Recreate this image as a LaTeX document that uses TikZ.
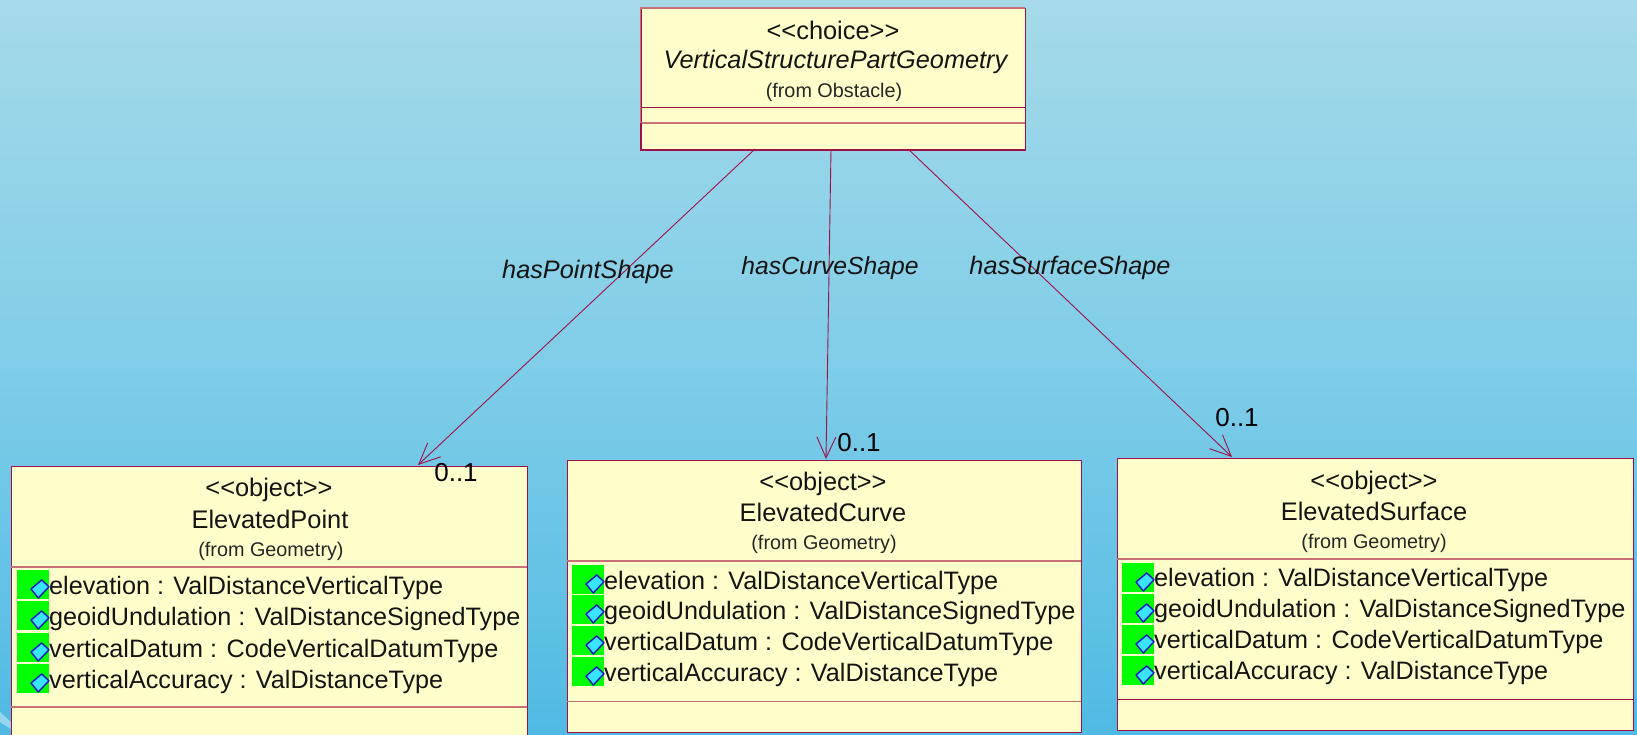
\documentclass[tikz,border=0pt]{standalone}
\usepackage{fontspec}
\setmainfont{Liberation Sans}
\usetikzlibrary{arrows.meta}
\definecolor{umlline}{HTML}{A01048}
\definecolor{umlfill}{HTML}{FFFFCB}
\definecolor{umlsoft}{HTML}{C87078}
\definecolor{bgtop}{HTML}{A6DAE8}
\definecolor{bgmid}{HTML}{7FCDE8}
\definecolor{bgbot}{HTML}{50BAE3}
\definecolor{iconblue}{HTML}{1818C0}
\definecolor{iconcyan}{HTML}{38E4FF}
\tikzset{
  x=1pt,y=-1pt,
  classbox/.style={draw=umlline,line width=1.4pt,fill=umlfill,rectangle,inner sep=0pt,anchor=north west},
  divider/.style={draw=umlline,line width=1pt},
  softdivider/.style={draw=umlsoft,line width=1.6pt},
  assoc/.style={draw=umlline,line width=0.9pt,-{Straight Barb[length=21pt,width=19pt,line width=0.9pt]}},
  stereo/.style={font=\fontsize{25.4}{28}\selectfont,inner sep=0pt,text=black!92},
  fromtxt/.style={font=\fontsize{19.8}{22}\selectfont,inner sep=0pt,text=black!85},
  attr/.style={font=\fontsize{25.2}{28}\selectfont,inner sep=0pt,anchor=base west,text=black!92},
  rolelab/.style={font=\itshape\fontsize{25.3}{28}\selectfont,inner sep=0pt,text=black!92},
  mult/.style={font=\fontsize{26}{28}\selectfont,inner sep=0pt,text=black},
  greenbox/.style={fill=green!100!black,draw=none},
}
% #1 x of row start, #2 top of the green block
\newcommand{\attricon}[2]{%
  \fill[greenbox] (#1,#2) rectangle +(32,29);
  \draw[draw=iconblue,line width=1.4pt,fill=iconcyan,line join=round]
    (#1+14,#2+19) -- (#1+24.7,#2+10) -- (#1+32,#2+16.7) -- (#1+21.3,#2+28) -- cycle;}
% #1 x icon, #2 x text, #3..#6 tops, #7 name prefix, #8 text baseline offset
\newcommand{\attrlist}[8]{%
  \attricon{#1}{#3}\attricon{#1}{#4}\attricon{#1}{#5}\attricon{#1}{#6}
  \node[attr] (#7a) at (#2,#3+#8) {elevation : ValDistanceVerticalType};
  \node[attr] (#7b) at (#2,#4+#8) {geoidUndulation : ValDistanceSignedType};
  \node[attr] (#7c) at (#2,#5+#8) {verticalDatum : CodeVerticalDatumType};
  \node[attr] (#7d) at (#2,#6+#8) {verticalAccuracy : ValDistanceType};}
\begin{document}
\begin{tikzpicture}
\useasboundingbox (0,0) rectangle (1637,734);
\clip (0,0) rectangle (1637,734);
\shade[top color=bgtop,bottom color=bgbot,middle color=bgmid] (0,0) rectangle (1637,734);
\fill[white,opacity=0.4] (0,712) -- (11,722) -- (11,729) -- (0,722) -- cycle;

% top class
\node[classbox,minimum width=384.5pt,minimum height=142pt] (top) at (640.5,8) {};
\node[stereo] (topa) at (833,30) {<{}<choice>{}>};
\node[rolelab] (topb) at (835.5,62) {VerticalStructurePartGeometry};
\node[fromtxt] (topc) at (834,92) {(from Obstacle)};
\draw[divider] (640.5,107.5) -- (1025,107.5);
\draw[softdivider] (640.5,122.7) -- (1025,122.7);
\draw[softdivider] (640.5,122.7) -- (640.5,8) -- (1025,8);
\draw[umlline,line width=2pt] (640.5,122.7) -- (640.5,150) -- (1025,150);

% left class
\node[classbox,minimum width=516pt,minimum height=300pt] (pt) at (11,466) {};
\node[stereo] (pta) at (269,490) {<{}<object>{}>};
\node[stereo] (ptb) at (270,519) {ElevatedPoint};
\node[fromtxt] (ptc) at (271,551) {(from Geometry)};
\draw[softdivider] (11,566.7) -- (527,566.7);
\draw[softdivider] (11,706.7) -- (527,706.7);
\attrlist{17}{49}{570}{601}{633}{664}{pt}{24}

% middle class
\node[classbox,minimum width=514pt,minimum height=272pt] (cv) at (567,460) {};
\node[stereo] (cva) at (823,484) {<{}<object>{}>};
\node[stereo] (cvb) at (823,512) {ElevatedCurve};
\node[fromtxt] (cvc) at (824,544) {(from Geometry)};
\draw[softdivider] (567,561) -- (1081,561);
\draw[softdivider] (567,701.5) -- (1081,701.5);
\attrlist{572}{604}{565}{595}{626}{657}{cv}{24}

% right class
\node[classbox,minimum width=516pt,minimum height=272pt] (sf) at (1117,458) {};
\node[stereo] (sfa) at (1374,483) {<{}<object>{}>};
\node[stereo] (sfb) at (1374,511) {ElevatedSurface};
\node[fromtxt] (sfc) at (1374,543) {(from Geometry)};
\draw[softdivider] (1117,559) -- (1633,559);
\draw[divider] (1117,699) -- (1633,699);
\attrlist{1122}{1154}{563}{594}{625}{656}{sf}{23}

% connectors
\coordinate (t1) at (755,149);
\coordinate (t2) at (831,149);
\coordinate (t3) at (908,149);
\coordinate (e1) at (418,465);
\coordinate (e2) at (826,459);
\coordinate (e3) at (1232,457);
\draw[assoc] (t1) -- (e1);
\draw[assoc] (t2) -- (e2);
\draw[assoc] (t3) -- (e3);

\node[rolelab] (l1) at (588,272) {hasPointShape};
\node[rolelab,font=\itshape\fontsize{24.7}{28}\selectfont] (l2) at (830,268) {hasCurveShape};
\node[rolelab] (l3) at (1070,268) {hasSurfaceShape};
\node[mult] (m1) at (456,473) {0..1};
\node[mult] (m2) at (859,443) {0..1};
\node[mult] (m3) at (1237,418) {0..1};
\end{tikzpicture}
\end{document}
